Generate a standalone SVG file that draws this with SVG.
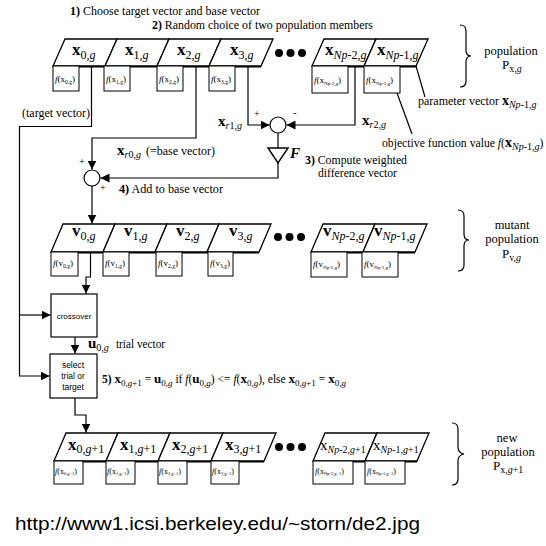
<svg xmlns="http://www.w3.org/2000/svg" width="546" height="546" viewBox="0 0 546 546" font-family="'Liberation Serif', 'DejaVu Serif', serif">
<style>
.cell{fill:#fff;stroke:#000;stroke-width:1.3}
.base{stroke:#000;stroke-width:3;fill:none}
.fbox{fill:#fff;stroke:#000;stroke-width:1}
.conn{fill:none;stroke:#000;stroke-width:1.2}
.t{font-family:'Liberation Serif','DejaVu Serif',serif;fill:#000}
.s{font-family:'Liberation Sans','DejaVu Sans',sans-serif;fill:#000}
.lab{font-size:17px}
.bx{font-weight:bold}
.sub{font-size:12px}
.fl{font-size:9px}
.it{font-style:italic}
.dot{fill:#000}
</style>
<defs>
<marker id="ah" markerUnits="userSpaceOnUse" markerWidth="9" markerHeight="9" refX="9" refY="4.5" orient="auto">
<path d="M0,0 L9,4.5 L0,9 z" fill="#000"/>
</marker>
</defs>
<rect width="546" height="546" fill="#fff"/>

<!-- connectors -->
<g id="connectors" class="conn">
<path d="M91.5,66 V126.5 H19.5 V376 H49.5" marker-end="url(#ah)"/>
<path d="M19.5,315 H50.5" marker-end="url(#ah)"/>
<path d="M196,66 V138 H92 V169.5" marker-end="url(#ah)"/>
<path d="M248,66 V125 H269.5" marker-end="url(#ah)"/>
<path d="M355,66 V125 H286.5" marker-end="url(#ah)"/>
<path d="M278,133 V148"/>
<path d="M278,163 V178 H100.5" marker-end="url(#ah)"/>
<path d="M92,186 V223.5" marker-end="url(#ah)"/>
<path d="M90.5,252 V277 H86 V293.5" marker-end="url(#ah)"/>
<path d="M75,337 V353.5" marker-end="url(#ah)"/>
<path d="M75,398 V415 H86 V432.5" marker-end="url(#ah)"/>
<path d="M416,66 L425,97"/>
<path d="M397,93 L412,134"/>
</g>

<!-- top row: population -->
<g id="pop-base"><path class="base" d="M53,66 H261 M312,66 H416"/></g>
<g id="x0g"><polygon class="cell" points="65,39 117,39 105,66 53,66"/>
<text class="t lab" x="72" y="55"><tspan class="bx">x</tspan><tspan class="sub" dy="4">0,<tspan class="it">g</tspan></tspan></text></g>
<g id="x1g"><polygon class="cell" points="117,39 169,39 157,66 105,66"/>
<text class="t lab" x="125" y="55"><tspan class="bx">x</tspan><tspan class="sub" dy="4">1,<tspan class="it">g</tspan></tspan></text></g>
<g id="x2g"><polygon class="cell" points="169,39 221,39 209,66 157,66"/>
<text class="t lab" x="177" y="55"><tspan class="bx">x</tspan><tspan class="sub" dy="4">2,<tspan class="it">g</tspan></tspan></text></g>
<g id="x3g"><polygon class="cell" points="221,39 273,39 261,66 209,66"/>
<text class="t lab" x="230" y="55"><tspan class="bx">x</tspan><tspan class="sub" dy="4">3,<tspan class="it">g</tspan></tspan></text></g>
<g id="dots1"><circle class="dot" cx="279" cy="53" r="4"/><circle class="dot" cx="290.5" cy="53" r="4"/><circle class="dot" cx="302" cy="53" r="4"/></g>
<g id="xNp2g"><polygon class="cell" points="324,39 376,39 364,66 312,66"/>
<text class="t lab" x="325" y="55"><tspan class="bx">x</tspan><tspan class="sub" dy="4"><tspan class="it">Np</tspan>-2,<tspan class="it">g</tspan></tspan></text></g>
<g id="xNp1g"><polygon class="cell" points="376,39 428,39 416,66 364,66"/>
<text class="t lab" x="377" y="55"><tspan class="bx">x</tspan><tspan class="sub" dy="4"><tspan class="it">Np</tspan>-1,<tspan class="it">g</tspan></tspan></text></g>

<g id="fx0"><rect class="fbox" x="53" y="66" width="26" height="25"/><text class="t fl" x="55" y="82"><tspan class="it">f</tspan>(x<tspan font-size="5.5" dy="1.5">0,g</tspan><tspan dy="-1.5">)</tspan></text></g>
<g id="fx1"><rect class="fbox" x="104" y="66" width="26" height="25"/><text class="t fl" x="106" y="82"><tspan class="it">f</tspan>(x<tspan font-size="5.5" dy="1.5">1,g</tspan><tspan dy="-1.5">)</tspan></text></g>
<g id="fx2"><rect class="fbox" x="157" y="66" width="26" height="25"/><text class="t fl" x="159" y="82"><tspan class="it">f</tspan>(x<tspan font-size="5.5" dy="1.5">2,g</tspan><tspan dy="-1.5">)</tspan></text></g>
<g id="fx3"><rect class="fbox" x="209" y="66" width="26" height="25"/><text class="t fl" x="211" y="82"><tspan class="it">f</tspan>(x<tspan font-size="5.5" dy="1.5">3,g</tspan><tspan dy="-1.5">)</tspan></text></g>
<g id="fxNp2"><rect class="fbox" x="312" y="66" width="36" height="27"/><text class="t fl" x="314" y="83"><tspan class="it">f</tspan>(x<tspan font-size="5" dy="1.5">Np-2,g</tspan><tspan dy="-1.5">)</tspan></text></g>
<g id="fxNp1"><rect class="fbox" x="364" y="66" width="36" height="27"/><text class="t fl" x="366" y="83"><tspan class="it">f</tspan>(x<tspan font-size="5" dy="1.5">Np-1,g</tspan><tspan dy="-1.5">)</tspan></text></g>

<g id="brace1"><path class="conn" d="M460,25 Q466,25 466,31 V50 Q466,56 471,56 Q466,56 466,62 V81 Q466,87 460,87"/>
<text class="t" font-size="12.5" x="511" y="55" text-anchor="middle">population</text>
<text class="t" font-size="13" x="502" y="69">P<tspan font-size="10" dy="3">x,<tspan class="it">g</tspan></tspan></text></g>

<!-- step texts -->
<g id="step1"><text class="t" font-size="12.5" x="70" y="15" textLength="190" lengthAdjust="spacingAndGlyphs"><tspan font-weight="bold">1)</tspan> Choose target vector and base vector</text></g>
<g id="step2"><text class="t" font-size="12.5" x="152" y="29" textLength="221" lengthAdjust="spacingAndGlyphs"><tspan font-weight="bold">2)</tspan> Random choice of two population members</text></g>
<g id="paramvec"><text class="t" font-size="12" x="418" y="105">parameter vector <tspan font-weight="bold" font-size="14">x</tspan><tspan font-size="10" dy="3"><tspan class="it">Np</tspan>-1,<tspan class="it">g</tspan></tspan></text></g>
<g id="objval"><text class="t" font-size="11.7" x="382" y="147">objective function value <tspan class="it">f</tspan>(<tspan font-weight="bold" font-size="14">x</tspan><tspan font-size="10" dy="3"><tspan class="it">Np</tspan>-1,<tspan class="it">g</tspan></tspan><tspan dy="-3">)</tspan></text></g>
<g id="target"><text class="t" font-size="12" x="22" y="117" textLength="68" lengthAdjust="spacingAndGlyphs">(target vector)</text></g>

<g id="sum2"><circle cx="278" cy="125" r="8" fill="#fff" stroke="#000" stroke-width="1.2"/>
<text class="t" font-size="10" x="254" y="117">+</text><text class="t" font-size="11" x="293" y="116">-</text></g>
<g id="xr1"><text class="t" x="218" y="126"><tspan class="bx" font-size="15">x</tspan><tspan font-size="10" dy="3"><tspan class="it">r</tspan>1,<tspan class="it">g</tspan></tspan></text></g>
<g id="xr2"><text class="t" x="362" y="125"><tspan class="bx" font-size="15">x</tspan><tspan font-size="10" dy="3"><tspan class="it">r</tspan>2,<tspan class="it">g</tspan></tspan></text></g>
<g id="Fgain"><polygon points="268,148 288,148 278,163" fill="#fff" stroke="#000" stroke-width="1.5"/>
<text class="t" font-size="15" font-style="italic" font-weight="bold" x="290" y="158">F</text></g>
<g id="step3"><text class="t" font-size="12.5" x="305" y="164" textLength="102" lengthAdjust="spacingAndGlyphs"><tspan font-weight="bold">3)</tspan> Compute weighted</text>
<text class="t" font-size="12.5" x="318" y="177" textLength="79" lengthAdjust="spacingAndGlyphs">difference vector</text></g>
<g id="xr0"><text class="t" x="117" y="155"><tspan class="bx" font-size="15">x</tspan><tspan font-size="10" dy="3"><tspan class="it">r</tspan>0,<tspan class="it">g</tspan></tspan></text>
<text class="t" font-size="12.5" x="146" y="155" textLength="69" lengthAdjust="spacingAndGlyphs">(=base vector)</text></g>
<g id="sum1"><circle cx="92" cy="178" r="8" fill="#fff" stroke="#000" stroke-width="1.2"/>
<text class="t" font-size="10" x="79" y="165">+</text><text class="t" font-size="10" x="100" y="191">+</text></g>
<g id="step4"><text class="t" font-size="12.5" x="119" y="193" textLength="104" lengthAdjust="spacingAndGlyphs"><tspan font-weight="bold">4)</tspan> Add to base vector</text></g>

<!-- mutant row -->
<g id="mut-base"><path class="base" d="M51,252 H259 M311,252 H415"/></g>
<g id="v0g"><polygon class="cell" points="63,224 115,224 103,252 51,252"/>
<text class="t lab" x="72" y="236"><tspan class="bx">v</tspan><tspan class="sub" dy="4">0,<tspan class="it">g</tspan></tspan></text></g>
<g id="v1g"><polygon class="cell" points="115,224 167,224 155,252 103,252"/>
<text class="t lab" x="124" y="236"><tspan class="bx">v</tspan><tspan class="sub" dy="4">1,<tspan class="it">g</tspan></tspan></text></g>
<g id="v2g"><polygon class="cell" points="167,224 219,224 207,252 155,252"/>
<text class="t lab" x="176" y="236"><tspan class="bx">v</tspan><tspan class="sub" dy="4">2,<tspan class="it">g</tspan></tspan></text></g>
<g id="v3g"><polygon class="cell" points="219,224 271,224 259,252 207,252"/>
<text class="t lab" x="229" y="236"><tspan class="bx">v</tspan><tspan class="sub" dy="4">3,<tspan class="it">g</tspan></tspan></text></g>
<g id="dots2"><circle class="dot" cx="278" cy="237" r="4"/><circle class="dot" cx="289.5" cy="237" r="4"/><circle class="dot" cx="301" cy="237" r="4"/></g>
<g id="vNp2g"><polygon class="cell" points="323,224 375,224 363,252 311,252"/>
<text class="t lab" x="323" y="236"><tspan class="bx">v</tspan><tspan class="sub" dy="4"><tspan class="it">Np</tspan>-2,<tspan class="it">g</tspan></tspan></text></g>
<g id="vNp1g"><polygon class="cell" points="375,224 427,224 415,252 363,252"/>
<text class="t lab" x="374" y="236"><tspan class="bx">v</tspan><tspan class="sub" dy="4"><tspan class="it">Np</tspan>-1,<tspan class="it">g</tspan></tspan></text></g>

<g id="fv0"><rect class="fbox" x="51" y="252" width="27" height="24"/><text class="t fl" x="53" y="266"><tspan class="it">f</tspan>(v<tspan font-size="5.5" dy="1.5">0,g</tspan><tspan dy="-1.5">)</tspan></text></g>
<g id="fv1"><rect class="fbox" x="103" y="252" width="26" height="24"/><text class="t fl" x="105" y="266"><tspan class="it">f</tspan>(v<tspan font-size="5.5" dy="1.5">1,g</tspan><tspan dy="-1.5">)</tspan></text></g>
<g id="fv2"><rect class="fbox" x="156" y="252" width="26" height="24"/><text class="t fl" x="158" y="266"><tspan class="it">f</tspan>(v<tspan font-size="5.5" dy="1.5">2,g</tspan><tspan dy="-1.5">)</tspan></text></g>
<g id="fv3"><rect class="fbox" x="208" y="252" width="25" height="24"/><text class="t fl" x="210" y="266"><tspan class="it">f</tspan>(v<tspan font-size="5.5" dy="1.5">3,g</tspan><tspan dy="-1.5">)</tspan></text></g>
<g id="fvNp2"><rect class="fbox" x="311" y="252" width="36" height="25"/><text class="t fl" x="313" y="267"><tspan class="it">f</tspan>(v<tspan font-size="5" dy="1.5">Np-2,g</tspan><tspan dy="-1.5">)</tspan></text></g>
<g id="fvNp1"><rect class="fbox" x="362" y="252" width="36" height="25"/><text class="t fl" x="364" y="267"><tspan class="it">f</tspan>(v<tspan font-size="5" dy="1.5">Np-1,g</tspan><tspan dy="-1.5">)</tspan></text></g>

<g id="brace2"><path class="conn" d="M458,210 Q464,210 464,216 V234 Q464,240 469,240 Q464,240 464,246 V265 Q464,271 458,271"/>
<text class="t" font-size="12.5" x="512" y="229" text-anchor="middle">mutant</text>
<text class="t" font-size="12.5" x="512" y="243" text-anchor="middle">population</text>
<text class="t" font-size="13" x="502" y="258">P<tspan font-size="10" dy="3">v,<tspan class="it">g</tspan></tspan></text></g>

<!-- crossover / selection -->
<g id="crossover"><rect x="51" y="294" width="46" height="43" fill="#fff" stroke="#000" stroke-width="1.2"/>
<text class="s" font-size="8" x="74" y="319" text-anchor="middle">crossover</text></g>
<g id="u0g"><text class="t" x="88" y="348"><tspan class="bx" font-size="15">u</tspan><tspan font-size="10" dy="3">0,<tspan class="it">g</tspan></tspan></text>
<text class="t" font-size="12.5" x="116" y="348" textLength="49" lengthAdjust="spacingAndGlyphs">trial vector</text></g>
<g id="select"><rect x="50" y="354" width="47" height="44" fill="#fff" stroke="#000" stroke-width="1.2"/>
<text class="s" font-size="8.5" x="73" y="368" text-anchor="middle">select</text>
<text class="s" font-size="8.5" x="73" y="379" text-anchor="middle">trial or</text>
<text class="s" font-size="8.5" x="73" y="390" text-anchor="middle">target</text></g>
<g id="step5"><text class="t" font-size="11.5" x="102" y="383"><tspan font-weight="bold">5)</tspan> <tspan class="bx" font-size="13">x</tspan><tspan font-size="9" dy="3">0,<tspan class="it">g</tspan>+1</tspan><tspan dy="-3"> = </tspan><tspan class="bx" font-size="13">u</tspan><tspan font-size="9" dy="3">0,<tspan class="it">g</tspan></tspan><tspan dy="-3"> if </tspan><tspan class="it">f</tspan>(<tspan class="bx" font-size="13">u</tspan><tspan font-size="9" dy="3">0,<tspan class="it">g</tspan></tspan><tspan dy="-3">) &lt;= </tspan><tspan class="it">f</tspan>(<tspan class="bx" font-size="13">x</tspan><tspan font-size="9" dy="3">0,<tspan class="it">g</tspan></tspan><tspan dy="-3">), else </tspan><tspan class="bx" font-size="13">x</tspan><tspan font-size="9" dy="3">0,<tspan class="it">g</tspan>+1</tspan><tspan dy="-3"> = </tspan><tspan class="bx" font-size="13">x</tspan><tspan font-size="9" dy="3">0,<tspan class="it">g</tspan></tspan></text></g>

<!-- new population row -->
<g id="new-base"><path class="base" d="M54,461 H264 M313,461 H417"/></g>
<g id="x0g1"><polygon class="cell" points="66,433 118,433 106,461 54,461"/>
<text class="t lab" x="68" y="450"><tspan class="bx">x</tspan><tspan class="sub" dy="3">0,<tspan class="it">g</tspan>+1</tspan></text></g>
<g id="x1g1"><polygon class="cell" points="118,433 170,433 158,461 106,461"/>
<text class="t lab" x="120" y="450"><tspan class="bx">x</tspan><tspan class="sub" dy="3">1,<tspan class="it">g</tspan>+1</tspan></text></g>
<g id="x2g1"><polygon class="cell" points="170,433 223,433 211,461 158,461"/>
<text class="t lab" x="172" y="450"><tspan class="bx">x</tspan><tspan class="sub" dy="3">2,<tspan class="it">g</tspan>+1</tspan></text></g>
<g id="x3g1"><polygon class="cell" points="223,433 276,433 264,461 211,461"/>
<text class="t lab" x="225" y="450"><tspan class="bx">x</tspan><tspan class="sub" dy="3">3,<tspan class="it">g</tspan>+1</tspan></text></g>
<g id="dots3"><circle class="dot" cx="279" cy="447" r="4"/><circle class="dot" cx="290.5" cy="447" r="4"/><circle class="dot" cx="302" cy="447" r="4"/></g>
<g id="xNp2g1"><polygon class="cell" points="325,433 377,433 365,461 313,461"/>
<text class="t" font-size="15" x="320" y="450">x<tspan font-size="10" dy="3"><tspan class="it">Np</tspan>-2,<tspan class="it">g</tspan>+1</tspan></text></g>
<g id="xNp1g1"><polygon class="cell" points="377,433 429,433 417,461 365,461"/>
<text class="t" font-size="15" x="373" y="450">x<tspan font-size="10" dy="3"><tspan class="it">Np</tspan>-1,<tspan class="it">g</tspan>+1</tspan></text></g>

<g id="fx0g1"><rect class="fbox" x="54" y="461" width="29" height="23"/><text class="t" font-size="8" x="55" y="474"><tspan class="it">f</tspan>(x<tspan font-size="4.5" dy="1">0,g+1</tspan><tspan dy="-1">)</tspan></text></g>
<g id="fx1g1"><rect class="fbox" x="106" y="461" width="29" height="23"/><text class="t" font-size="8" x="107" y="474"><tspan class="it">f</tspan>(x<tspan font-size="4.5" dy="1">1,g+1</tspan><tspan dy="-1">)</tspan></text></g>
<g id="fx2g1"><rect class="fbox" x="158" y="461" width="29" height="23"/><text class="t" font-size="8" x="159" y="474"><tspan class="it">f</tspan>(x<tspan font-size="4.5" dy="1">2,g+1</tspan><tspan dy="-1">)</tspan></text></g>
<g id="fx3g1"><rect class="fbox" x="211" y="461" width="28" height="23"/><text class="t" font-size="8" x="212" y="474"><tspan class="it">f</tspan>(x<tspan font-size="4.5" dy="1">3,g+1</tspan><tspan dy="-1">)</tspan></text></g>
<g id="fxNp2g1"><rect class="fbox" x="313" y="461" width="40" height="23"/><text class="t" font-size="8" x="315" y="474"><tspan class="it">f</tspan>(x<tspan font-size="4.5" dy="1">Np-2,g+1</tspan><tspan dy="-1">)</tspan></text></g>
<g id="fxNp1g1"><rect class="fbox" x="365" y="461" width="40" height="23"/><text class="t" font-size="8" x="367" y="474"><tspan class="it">f</tspan>(x<tspan font-size="4.5" dy="1">Np-1,g+1</tspan><tspan dy="-1">)</tspan></text></g>

<g id="brace3"><path class="conn" d="M452,423 Q458,423 458,429 V447 Q458,453 464,454 Q458,455 458,461 V479 Q458,485 452,485"/>
<text class="t" font-size="12.5" x="507" y="442" text-anchor="middle">new</text>
<text class="t" font-size="12.5" x="508" y="456" text-anchor="middle">population</text>
<text class="t" font-size="13" x="493" y="470">P<tspan font-size="10" dy="3">x,<tspan class="it">g</tspan>+1</tspan></text></g>

<g id="url"><text class="s" font-size="17.5" x="15" y="530" textLength="405" lengthAdjust="spacingAndGlyphs">http://www1.icsi.berkeley.edu/~storn/de2.jpg</text></g>
</svg>
